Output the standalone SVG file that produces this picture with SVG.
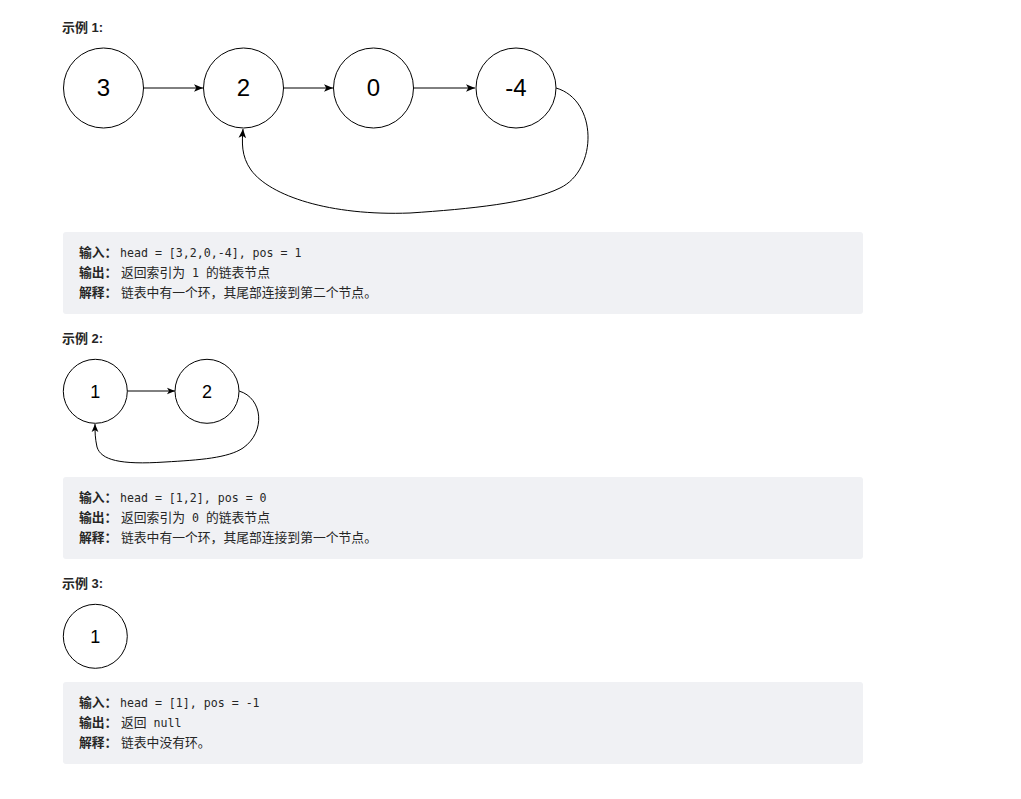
<svg xmlns="http://www.w3.org/2000/svg" width="1021" height="799" viewBox="0 0 1021 799">
<style>
.node{fill:#fff;stroke:#000;stroke-width:1}
.edge{fill:none;stroke:#000;stroke-width:1}
.num{font-family:"Liberation Sans",Arial,sans-serif;fill:#000;text-anchor:middle}
.big{font-size:24px}
.small{font-size:18px}
.hdr{font-family:"Liberation Sans","Noto Sans CJK SC",sans-serif;font-size:13px;font-weight:bold;fill:#262626}
.box{fill:#f0f1f4}
.txt{font-family:"Noto Sans CJK SC",sans-serif;font-size:12.8px;fill:#262626}
.lbl{font-weight:bold}
.code{font-family:"DejaVu Sans Mono","Liberation Mono",monospace;font-size:11.6px}
</style>
<defs>
<marker id="arr" viewBox="0 0 10 10" refX="10" refY="5" markerWidth="9" markerHeight="9" markerUnits="userSpaceOnUse" orient="auto">
<path d="M0,0.8 L10,5 L0,9.2 L2.5,5 Z" fill="#000"/>
</marker>
<marker id="arrs" viewBox="0 0 10 10" refX="10" refY="5" markerWidth="8" markerHeight="8" markerUnits="userSpaceOnUse" orient="auto">
<path d="M0,0.8 L10,5 L0,9.2 L2.5,5 Z" fill="#000"/>
</marker>
</defs>
<rect width="1021" height="799" fill="#fff"/>

<text class="hdr" x="62" y="32">示例 1:</text>
<text class="hdr" x="62" y="343">示例 2:</text>
<text class="hdr" x="62" y="588">示例 3:</text>

<g id="connectors">
<path class="edge" d="M143,88 L203,88" marker-end="url(#arr)"/>
<path class="edge" d="M283,88 L333,88" marker-end="url(#arr)"/>
<path class="edge" d="M413,88 L475,88" marker-end="url(#arr)"/>
<path class="edge" d="M556,88 C598,100 598,170 560,188 C530,203 470,209 410,213 C330,216 270,196 251,170 C241,156 242,142 243,129" marker-end="url(#arr)"/>
<path class="edge" d="M127,391 L175,391" marker-end="url(#arrs)"/>
<path class="edge" d="M239,391 C263,398 266,432 243,448 C228,458 200,460 165,462 C120,465 101,460 97,447 C95,438 95,432 95,424" marker-end="url(#arrs)"/>
</g>

<g id="e1-n3"><circle class="node" cx="103.5" cy="88" r="40"/><text class="num big" x="103.5" y="96">3</text></g>
<g id="e1-n2"><circle class="node" cx="243.5" cy="88" r="40"/><text class="num big" x="243.5" y="96">2</text></g>
<g id="e1-n0"><circle class="node" cx="373.5" cy="88" r="40"/><text class="num big" x="373.5" y="96">0</text></g>
<g id="e1-n4"><circle class="node" cx="516" cy="88" r="40"/><text class="num big" x="516" y="96">-4</text></g>

<g id="e2-n1"><circle class="node" cx="95.3" cy="391.3" r="32"/><text class="num small" x="95.3" y="397.5">1</text></g>
<g id="e2-n2"><circle class="node" cx="207" cy="391.3" r="32"/><text class="num small" x="207" y="397.5">2</text></g>

<g id="e3-n1"><circle class="node" cx="95.3" cy="636.3" r="32"/><text class="num small" x="95.3" y="642.5">1</text></g>

<g id="box1">
<rect class="box" x="63" y="232" width="800" height="82" rx="3"/>
<text class="txt" x="79" y="257"><tspan class="lbl">输入：</tspan><tspan class="code" x="120">head = [3,2,0,-4], pos = 1</tspan></text>
<text class="txt" x="79" y="277"><tspan class="lbl">输出：</tspan><tspan x="121">返回索引为</tspan><tspan class="code"> 1 </tspan><tspan>的链表节点</tspan></text>
<text class="txt" x="79" y="297"><tspan class="lbl">解释：</tspan><tspan x="121">链表中有一个环，其尾部连接到第二个节点。</tspan></text>
</g>

<g id="box2">
<rect class="box" x="63" y="477" width="800" height="82" rx="3"/>
<text class="txt" x="79" y="502"><tspan class="lbl">输入：</tspan><tspan class="code" x="120">head = [1,2], pos = 0</tspan></text>
<text class="txt" x="79" y="522"><tspan class="lbl">输出：</tspan><tspan x="121">返回索引为</tspan><tspan class="code"> 0 </tspan><tspan>的链表节点</tspan></text>
<text class="txt" x="79" y="542"><tspan class="lbl">解释：</tspan><tspan x="121">链表中有一个环，其尾部连接到第一个节点。</tspan></text>
</g>

<g id="box3">
<rect class="box" x="63" y="682" width="800" height="82" rx="3"/>
<text class="txt" x="79" y="707"><tspan class="lbl">输入：</tspan><tspan class="code" x="120">head = [1], pos = -1</tspan></text>
<text class="txt" x="79" y="727"><tspan class="lbl">输出：</tspan><tspan x="121">返回</tspan><tspan class="code"> null</tspan></text>
<text class="txt" x="79" y="747"><tspan class="lbl">解释：</tspan><tspan x="121">链表中没有环。</tspan></text>
</g>
</svg>
